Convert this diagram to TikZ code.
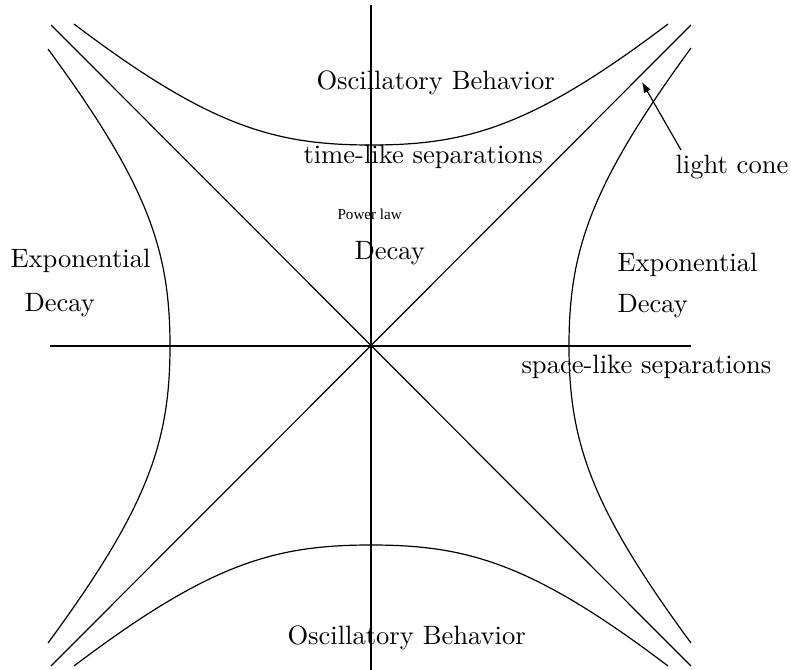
\documentclass[tikz,border=0pt]{standalone}
\usepackage{fontspec}
\newfontfamily\smallserif{Liberation Serif}
\usetikzlibrary{arrows.meta}
\begin{document}
\begin{tikzpicture}[x=0.3765pt,y=-0.3765pt,
  curve/.style={line width=0.45pt},
  axis/.style={line width=0.45pt},
  lbl/.style={anchor=base west,inner sep=0pt,font=\normalsize},
  small/.style={anchor=base west,inner sep=0pt,font=\smallserif\fontsize{5.7}{6.5}\selectfont}]
\useasboundingbox (0,0) rectangle (791,670);
% axes
\coordinate (xl) at (50,346); \coordinate (xr) at (691,346);
\coordinate (yt) at (371,5); \coordinate (yb) at (371,670);
\draw[axis] (xl) -- (xr);
\draw[axis] (yt) -- (yb);
% light cone diagonals
\coordinate (d1a) at (51,25); \coordinate (d1b) at (691,666);
\coordinate (d2a) at (691,25); \coordinate (d2b) at (51,666);
\draw[axis] (d1a) -- (d1b);
\draw[axis] (d2a) -- (d2b);
% hyperbolas
\draw[curve] (74,24) .. controls (210,127) and (275,145) .. (371,145)
  .. controls (467,145) and (532,127) .. (668,24);
\draw[curve] (74,666) .. controls (210,563) and (275,545) .. (371,545)
  .. controls (467,545) and (532,563) .. (668,666);
\draw[curve] (48,49) .. controls (148,185) and (170,250) .. (170,346)
  .. controls (170,442) and (148,507) .. (48,643);
\draw[curve] (691,48) .. controls (591,185) and (569,250) .. (569,346)
  .. controls (569,442) and (591,507) .. (691,643);
% labels
\node[lbl] (osctop) at (316,89) {Oscillatory Behavior};
\node[lbl] (timelike) at (303,163) {time-like separations};
\node[small] (power) at (337,219) {Power law};
\node[lbl] (decayc) at (354,259) {Decay};
\node[lbl] (expl) at (10,267) {Exponential};
\node[lbl] (decayl) at (24,311) {Decay};
\node[lbl] (expr) at (617,271) {Exponential};
\node[lbl] (decayr) at (617,312) {Decay};
\node[lbl] (spacelike) at (521,373) {space-like separations};
\node[lbl] (lightcone) at (675,173) {light cone};
\node[lbl] (oscbot) at (287,645) {Oscillatory Behavior};
% arrow
\coordinate (lctail) at (681,150);
\coordinate (lchead) at (642,82);
\draw[-{Latex[length=4pt,width=3pt]},line width=0.45pt] (lctail) -- (lchead);
\end{tikzpicture}
\end{document}
